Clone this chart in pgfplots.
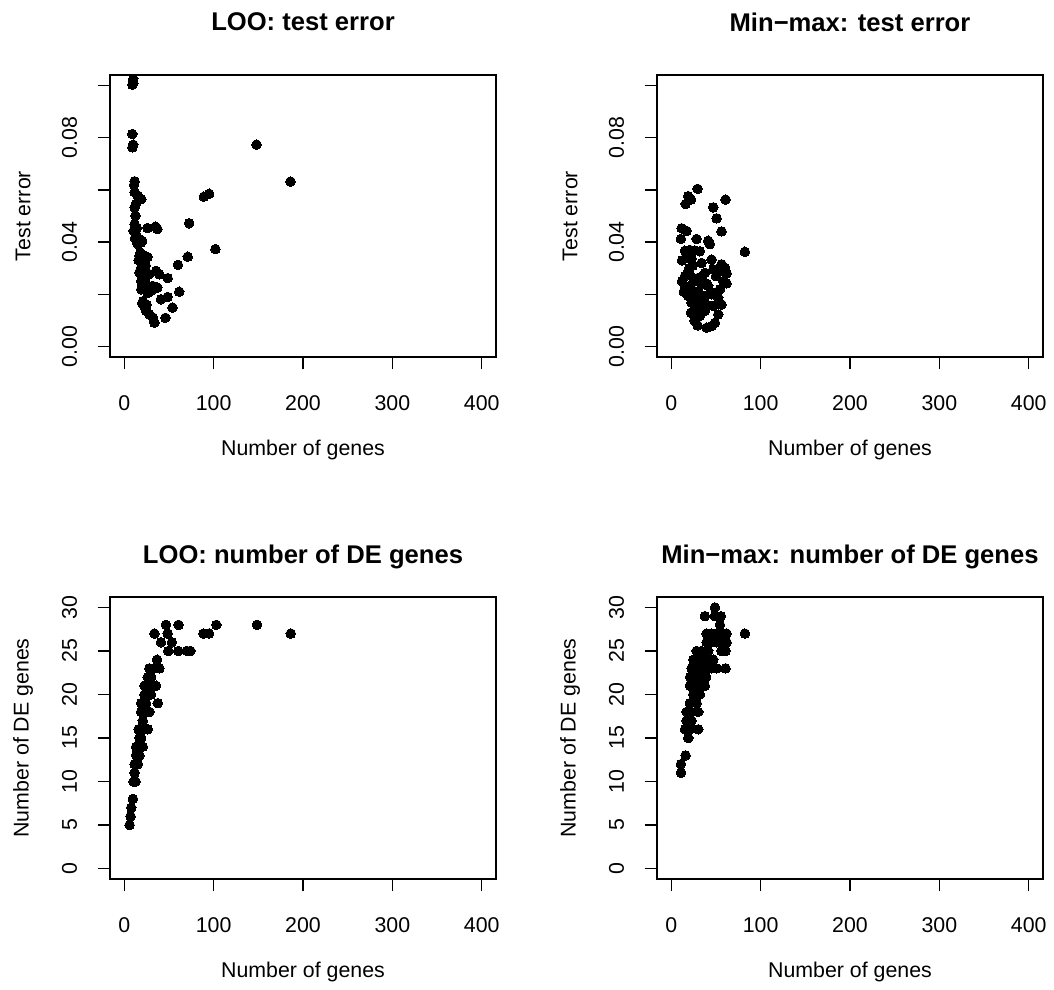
\documentclass[border=0pt]{standalone}
\usepackage{fontspec}
\setmainfont{Liberation Sans}
\usepackage{pgfplots}
\pgfplotsset{compat=1.18}
\pgfplotsset{
  every axis title shift=0pt,
  rbase/.style={
    scale only axis, width=217.125pt, height=158.625pt,
    anchor=south west,
    axis line style={line width=0.8pt},
    tick align=outside, xtick pos=left, ytick pos=left,
    major tick length=7pt,
    every tick/.style={line width=0.8pt, black},
    xmin=-16, xmax=416,
    xtick={0,100,200,300,400},
    /pgf/number format/assume math mode=true,
    tick label style={font=\fontsize{12}{14}\selectfont},
    label style={font=\fontsize{12}{14}\selectfont},
    title style={font=\bfseries\fontsize{14.4}{17}\selectfont, anchor=center},
    xlabel={Number of genes},
    xlabel style={at={(axis description cs:0.5,-0.3298)}, anchor=center},
    ylabel style={at={(axis description cs:-0.2253,0.5)}, anchor=center},
    xticklabel style={anchor=north, inner ysep=14.5pt},
    yticklabel style={rotate=90, anchor=south, inner ysep=11.3pt},
    scaled y ticks=false,
  },
  errax/.style={rbase, ymin=-0.004, ymax=0.104,
    ytick={0,0.02,0.04,0.06,0.08,0.1},
    yticklabels={0.00,,0.04,,0.08,},
    ylabel={Test error},
    title style={at={(axis description cs:0.5,1.188)}}},
  deax/.style={rbase, ymin=-1.2, ymax=31.2,
    ytick={0,5,10,15,20,25,30},
    ylabel={Number of DE genes},
    title style={at={(axis description cs:0.5,1.1418)}}},
  pts/.style={only marks, mark=*, mark size=2.7pt, mark options={fill=black, draw=black, line width=0pt}},
}
\begin{document}
\begin{tikzpicture}
% top-left
\begin{axis}[errax, at={(61.875pt,356.06pt)}, title={LOO: test error}]
\addplot[pts] coordinates {
(9,0.1003) (10,0.1008) (10,0.1025)
(9,0.0814) (10,0.0773) (9,0.0763)
(148,0.0773) (186,0.0632)
(11.5,0.0633) (11,0.0620)
(89,0.0574) (95,0.0585)
(11.5,0.0591) (15,0.0578) (19,0.0565) (13,0.0546) (11.5,0.0533)
(12.5,0.0501) (11.5,0.0469) (10.5,0.0443) (13,0.0431) (17,0.0412) (19,0.0399) (15,0.0393)
(26,0.0454) (35,0.0459) (37,0.0450)
(72.6,0.0472)
(102,0.0373) (71,0.0344) (60,0.0313)
(17,0.0347) (21,0.0351) (26,0.0343) (16,0.0331) (22.6,0.0326)
(19,0.0303) (17,0.0284) (28,0.0277) (35.6,0.0290) (39,0.0277) (48.5,0.0262)
(19,0.0251) (24,0.0245) (32,0.0232) (37,0.0226) (19,0.0219)
(28,0.0219) (30,0.0213) (61.5,0.0210)
(41,0.0181) (48.5,0.0190)
(21,0.0174) (22.6,0.0155) (24.4,0.0137) (28,0.0124) (32,0.0111) (33.7,0.0091)
(54,0.0149) (46,0.0110)
(14,0.0455) (12,0.0415) (20,0.0405) (18,0.036) (20,0.032) (24,0.031) (21,0.028) (22,0.0235) (26,0.0205) (20,0.0165) (25,0.016)
};
\end{axis}
% top-right
\begin{axis}[errax, at={(369.56pt,356.06pt)}, title={Min−max: test error}]
\addplot[pts] coordinates {
(29.4,0.0604) (19,0.0576) (22,0.0563) (16,0.0546) (60.7,0.0563) (46.9,0.0533) (50.7,0.0491) (56.2,0.0441)
(11.5,0.0453) (17.1,0.0443) (10.8,0.0412) (28.3,0.0412) (41.3,0.0405) (43.2,0.0392) (82.3,0.0363)
(15.3,0.0367) (20.8,0.0370) (26.4,0.0368) (32,0.0365)
(17.1,0.0341) (22.7,0.0337) (33.9,0.0320) (45.1,0.0333)
(56.2,0.0315) (60,0.0302) (54.4,0.0290) (47,0.0296)
(15.3,0.0270) (20.8,0.0276) (30.2,0.0263) (37.6,0.0282)
(61.8,0.0242) (54.4,0.0219) (41.3,0.0232) (33.9,0.0238)
(15.3,0.0232) (22.7,0.0219) (28.3,0.0206) (19,0.0194)
(37.6,0.0194) (45.1,0.0200) (52.5,0.0187) (56.2,0.0161) (47,0.0155) (41.3,0.0158)
(22.7,0.0168) (28.3,0.0155) (33.9,0.0149) (24.6,0.0129) (32,0.0117) (37.6,0.0136)
(52.5,0.0123) (48.8,0.0091) (45.1,0.0078) (39.5,0.0072) (29.4,0.0081)
(12,0.033) (12,0.025) (14,0.021) (18,0.028) (20,0.030) (25,0.025) (27,0.018) (30,0.014) (22,0.013) (26,0.010) (35,0.027) (40,0.024) (44,0.021) (50,0.027) (58,0.025) (62,0.028) (24,0.031) (30,0.021) (35,0.017)
};
\end{axis}
% bottom-left
\begin{axis}[deax, at={(61.875pt,62.44pt)}, title={LOO: number of DE genes}]
\addplot[pts] coordinates {
(46.7,28) (60.7,28) (103,28) (148.5,28)
(33.7,27) (48.5,27) (88.5,27) (94.8,27) (186.3,27)
(41.1,26) (53.3,26)
(49.3,25) (60.4,25) (70,25) (74,25)
(36.7,24)
(28.1,23) (33.7,23) (39.3,23)
(26.3,22) (30,22)
(22.6,21) (28.1,21) (35.6,21)
(22.6,20) (26.3,20) (30,20)
(18.9,19) (24.4,19) (37.4,19)
(18.9,18) (24.4,18) (28.1,18)
(20.7,17)
(15.9,16) (20.7,16) (26.3,16)
(17,15) (18.9,15)
(13.3,14) (17,14) (20.7,14)
(13.3,13) (17,13)
(11.5,12) (15.2,12)
(11.5,11)
(10.4,10) (12.6,10)
(9.6,8) (7.8,7) (7,6) (5.9,5)
};
\end{axis}
% bottom-right
\begin{axis}[deax, at={(369.56pt,62.44pt)}, title={Min−max: number of DE genes}]
\addplot[pts] coordinates {
(48.8,30)
(37.6,29) (48.8,29) (55.5,29)
(54.4,28)
(39.5,27) (45.1,27) (50.7,27) (56.2,27) (61.8,27) (82.3,27)
(39.5,26) (45.1,26) (50.7,26) (56.2,26) (61.8,26)
(28.3,25) (33.9,25) (41.3,25) (56.2,25) (60.7,25)
(24.6,24) (30.2,24) (35.8,24) (41.3,24) (47,24)
(22.7,23) (28.3,23) (33.9,23) (39.5,23) (45.1,23) (50.7,23) (60.7,23)
(21,22) (27,22) (33,22) (39,22)
(20.8,21) (26.4,21) (32,21) (37.6,21)
(24.6,20) (32,20)
(20.8,19) (28.3,19)
(17.1,18) (22.7,18) (30.2,18)
(17.1,17) (22.7,17)
(15.3,16) (20.8,16) (30.2,16)
(19,15)
(16,13) (10.8,12) (10.8,11)
};
\end{axis}
\pgfresetboundingbox
\path[use as bounding box] (0,0) rectangle (592.875pt,556.875pt);
\end{tikzpicture}
\end{document}
